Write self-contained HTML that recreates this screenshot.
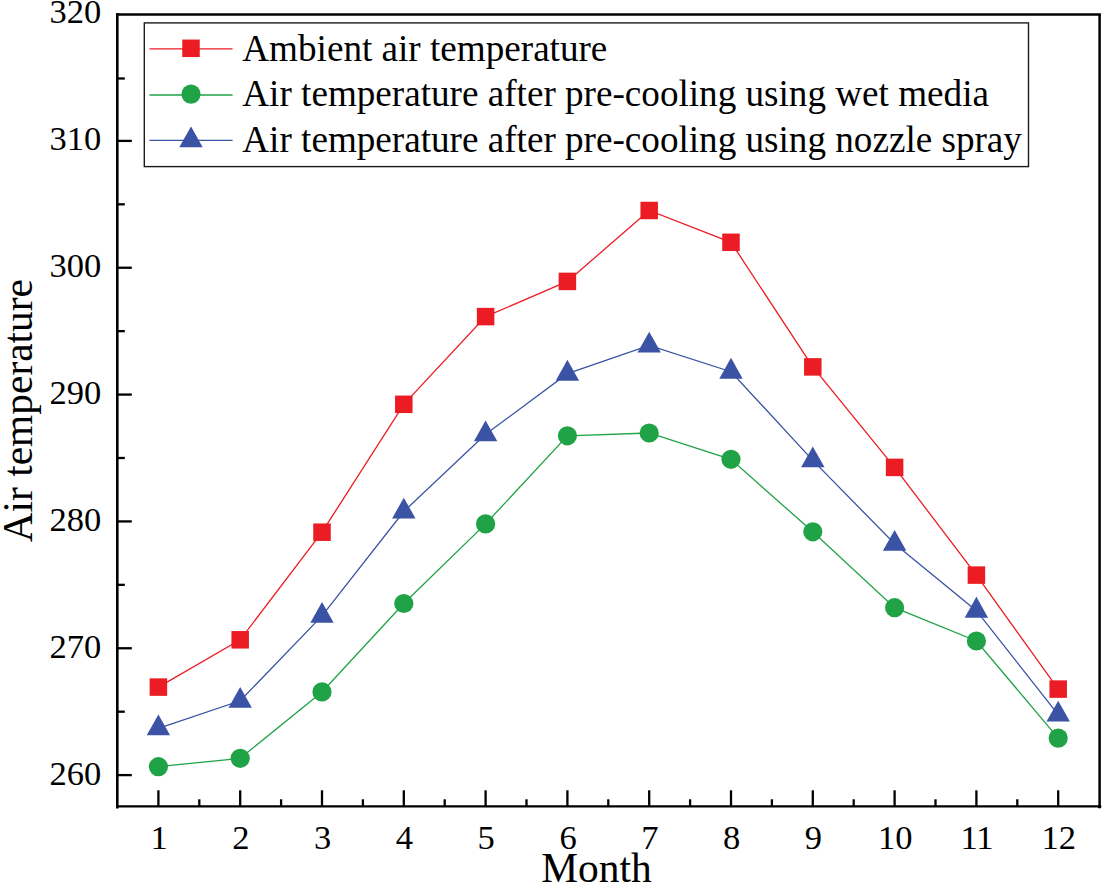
<!DOCTYPE html>
<html><head><meta charset="utf-8"><style>
html,body{margin:0;padding:0;background:#fff;}
svg{display:block;}
.lab{font-family:"Liberation Serif",serif;font-size:34.5px;fill:#000;}
.tit{font-family:"Liberation Serif",serif;font-size:41.4px;fill:#000;}
.leg{font-family:"Liberation Serif",serif;font-size:37.15px;fill:#000;}
</style></head><body>
<svg width="1105" height="886" viewBox="0 0 1105 886">
<polyline points="158.40,766.70 240.20,758.30 322.00,691.90 403.80,603.50 485.60,523.90 567.40,435.80 649.20,433.00 731.00,459.30 812.80,531.80 894.60,607.70 976.40,641.00 1058.20,738.10" fill="none" stroke="#1fa346" stroke-width="1.3"/>
<circle cx="158.40" cy="766.70" r="9.6" fill="#1fa346"/>
<circle cx="240.20" cy="758.30" r="9.6" fill="#1fa346"/>
<circle cx="322.00" cy="691.90" r="9.6" fill="#1fa346"/>
<circle cx="403.80" cy="603.50" r="9.6" fill="#1fa346"/>
<circle cx="485.60" cy="523.90" r="9.6" fill="#1fa346"/>
<circle cx="567.40" cy="435.80" r="9.6" fill="#1fa346"/>
<circle cx="649.20" cy="433.00" r="9.6" fill="#1fa346"/>
<circle cx="731.00" cy="459.30" r="9.6" fill="#1fa346"/>
<circle cx="812.80" cy="531.80" r="9.6" fill="#1fa346"/>
<circle cx="894.60" cy="607.70" r="9.6" fill="#1fa346"/>
<circle cx="976.40" cy="641.00" r="9.6" fill="#1fa346"/>
<circle cx="1058.20" cy="738.10" r="9.6" fill="#1fa346"/>
<polyline points="158.40,728.40 240.20,700.80 322.00,615.90 403.80,511.50 485.60,434.30 567.40,373.70 649.20,345.50 731.00,371.70 812.80,460.40 894.60,543.80 976.40,610.70 1058.20,714.60" fill="none" stroke="#3a53a4" stroke-width="1.3"/>
<polygon points="158.40,714.53 170.10,735.33 146.70,735.33" fill="#3a53a4"/>
<polygon points="240.20,686.93 251.90,707.73 228.50,707.73" fill="#3a53a4"/>
<polygon points="322.00,602.03 333.70,622.83 310.30,622.83" fill="#3a53a4"/>
<polygon points="403.80,497.63 415.50,518.43 392.10,518.43" fill="#3a53a4"/>
<polygon points="485.60,420.43 497.30,441.23 473.90,441.23" fill="#3a53a4"/>
<polygon points="567.40,359.83 579.10,380.63 555.70,380.63" fill="#3a53a4"/>
<polygon points="649.20,331.63 660.90,352.43 637.50,352.43" fill="#3a53a4"/>
<polygon points="731.00,357.83 742.70,378.63 719.30,378.63" fill="#3a53a4"/>
<polygon points="812.80,446.53 824.50,467.33 801.10,467.33" fill="#3a53a4"/>
<polygon points="894.60,529.93 906.30,550.73 882.90,550.73" fill="#3a53a4"/>
<polygon points="976.40,596.83 988.10,617.63 964.70,617.63" fill="#3a53a4"/>
<polygon points="1058.20,700.73 1069.90,721.53 1046.50,721.53" fill="#3a53a4"/>
<polyline points="158.40,687.10 240.20,639.80 322.00,532.20 403.80,404.30 485.60,316.60 567.40,281.40 649.20,210.50 731.00,242.30 812.80,366.90 894.60,467.40 976.40,575.10 1058.20,689.10" fill="none" stroke="#ec1c24" stroke-width="1.3"/>
<rect x="149.65" y="678.35" width="17.5" height="17.5" fill="#ec1c24"/>
<rect x="231.45" y="631.05" width="17.5" height="17.5" fill="#ec1c24"/>
<rect x="313.25" y="523.45" width="17.5" height="17.5" fill="#ec1c24"/>
<rect x="395.05" y="395.55" width="17.5" height="17.5" fill="#ec1c24"/>
<rect x="476.85" y="307.85" width="17.5" height="17.5" fill="#ec1c24"/>
<rect x="558.65" y="272.65" width="17.5" height="17.5" fill="#ec1c24"/>
<rect x="640.45" y="201.75" width="17.5" height="17.5" fill="#ec1c24"/>
<rect x="722.25" y="233.55" width="17.5" height="17.5" fill="#ec1c24"/>
<rect x="804.05" y="358.15" width="17.5" height="17.5" fill="#ec1c24"/>
<rect x="885.85" y="458.65" width="17.5" height="17.5" fill="#ec1c24"/>
<rect x="967.65" y="566.35" width="17.5" height="17.5" fill="#ec1c24"/>
<rect x="1049.45" y="680.35" width="17.5" height="17.5" fill="#ec1c24"/>
<path d="M116.0,14.4 H1100.8999999999999" stroke="#000" stroke-width="2.5" fill="none"/>
<path d="M1099.6,14.4 V806.3" stroke="#000" stroke-width="2.5" fill="none"/>
<path d="M117.3,13.15 V808.5999999999999" stroke="#000" stroke-width="2.6" fill="none"/>
<path d="M117.3,806.3 H1099.6" stroke="#000" stroke-width="2.3" stroke-linecap="round" fill="none"/>
<circle cx="1099.5" cy="806.5" r="1.9" fill="#000"/>
<line x1="117.3" y1="775.10" x2="131.8" y2="775.10" stroke="#000" stroke-width="2.3"/>
<line x1="117.3" y1="711.68" x2="124.8" y2="711.68" stroke="#000" stroke-width="2.3"/>
<line x1="117.3" y1="648.26" x2="131.8" y2="648.26" stroke="#000" stroke-width="2.3"/>
<line x1="117.3" y1="584.84" x2="124.8" y2="584.84" stroke="#000" stroke-width="2.3"/>
<line x1="117.3" y1="521.42" x2="131.8" y2="521.42" stroke="#000" stroke-width="2.3"/>
<line x1="117.3" y1="458.00" x2="124.8" y2="458.00" stroke="#000" stroke-width="2.3"/>
<line x1="117.3" y1="394.58" x2="131.8" y2="394.58" stroke="#000" stroke-width="2.3"/>
<line x1="117.3" y1="331.16" x2="124.8" y2="331.16" stroke="#000" stroke-width="2.3"/>
<line x1="117.3" y1="267.74" x2="131.8" y2="267.74" stroke="#000" stroke-width="2.3"/>
<line x1="117.3" y1="204.32" x2="124.8" y2="204.32" stroke="#000" stroke-width="2.3"/>
<line x1="117.3" y1="140.90" x2="131.8" y2="140.90" stroke="#000" stroke-width="2.3"/>
<line x1="117.3" y1="78.48" x2="124.8" y2="78.48" stroke="#000" stroke-width="2.3"/>
<line x1="158.40" y1="806.3" x2="158.40" y2="790.3" stroke="#000" stroke-width="2.3"/>
<line x1="199.30" y1="806.3" x2="199.30" y2="799.3" stroke="#000" stroke-width="2.3"/>
<line x1="240.20" y1="806.3" x2="240.20" y2="790.3" stroke="#000" stroke-width="2.3"/>
<line x1="281.10" y1="806.3" x2="281.10" y2="799.3" stroke="#000" stroke-width="2.3"/>
<line x1="322.00" y1="806.3" x2="322.00" y2="790.3" stroke="#000" stroke-width="2.3"/>
<line x1="362.90" y1="806.3" x2="362.90" y2="799.3" stroke="#000" stroke-width="2.3"/>
<line x1="403.80" y1="806.3" x2="403.80" y2="790.3" stroke="#000" stroke-width="2.3"/>
<line x1="444.70" y1="806.3" x2="444.70" y2="799.3" stroke="#000" stroke-width="2.3"/>
<line x1="485.60" y1="806.3" x2="485.60" y2="790.3" stroke="#000" stroke-width="2.3"/>
<line x1="526.50" y1="806.3" x2="526.50" y2="799.3" stroke="#000" stroke-width="2.3"/>
<line x1="567.40" y1="806.3" x2="567.40" y2="790.3" stroke="#000" stroke-width="2.3"/>
<line x1="608.30" y1="806.3" x2="608.30" y2="799.3" stroke="#000" stroke-width="2.3"/>
<line x1="649.20" y1="806.3" x2="649.20" y2="790.3" stroke="#000" stroke-width="2.3"/>
<line x1="690.10" y1="806.3" x2="690.10" y2="799.3" stroke="#000" stroke-width="2.3"/>
<line x1="731.00" y1="806.3" x2="731.00" y2="790.3" stroke="#000" stroke-width="2.3"/>
<line x1="771.90" y1="806.3" x2="771.90" y2="799.3" stroke="#000" stroke-width="2.3"/>
<line x1="812.80" y1="806.3" x2="812.80" y2="790.3" stroke="#000" stroke-width="2.3"/>
<line x1="853.70" y1="806.3" x2="853.70" y2="799.3" stroke="#000" stroke-width="2.3"/>
<line x1="894.60" y1="806.3" x2="894.60" y2="790.3" stroke="#000" stroke-width="2.3"/>
<line x1="935.50" y1="806.3" x2="935.50" y2="799.3" stroke="#000" stroke-width="2.3"/>
<line x1="976.40" y1="806.3" x2="976.40" y2="790.3" stroke="#000" stroke-width="2.3"/>
<line x1="1017.30" y1="806.3" x2="1017.30" y2="799.3" stroke="#000" stroke-width="2.3"/>
<line x1="1058.20" y1="806.3" x2="1058.20" y2="790.3" stroke="#000" stroke-width="2.3"/>
<text x="101.3" y="784.50" text-anchor="end" class="lab">260</text>
<text x="101.3" y="657.66" text-anchor="end" class="lab">270</text>
<text x="101.3" y="530.82" text-anchor="end" class="lab">280</text>
<text x="101.3" y="403.98" text-anchor="end" class="lab">290</text>
<text x="101.3" y="277.14" text-anchor="end" class="lab">300</text>
<text x="101.3" y="150.30" text-anchor="end" class="lab">310</text>
<text x="101.3" y="23.46" text-anchor="end" class="lab">320</text>
<text x="159.00" y="849.3" text-anchor="middle" class="lab">1</text>
<text x="240.80" y="849.3" text-anchor="middle" class="lab">2</text>
<text x="322.60" y="849.3" text-anchor="middle" class="lab">3</text>
<text x="404.40" y="849.3" text-anchor="middle" class="lab">4</text>
<text x="486.20" y="849.3" text-anchor="middle" class="lab">5</text>
<text x="568.00" y="849.3" text-anchor="middle" class="lab">6</text>
<text x="649.80" y="849.3" text-anchor="middle" class="lab">7</text>
<text x="731.60" y="849.3" text-anchor="middle" class="lab">8</text>
<text x="813.40" y="849.3" text-anchor="middle" class="lab">9</text>
<text x="895.20" y="849.3" text-anchor="middle" class="lab">10</text>
<text x="977.00" y="849.3" text-anchor="middle" class="lab">11</text>
<text x="1058.80" y="849.3" text-anchor="middle" class="lab">12</text>
<text x="596.5" y="882.3" text-anchor="middle" class="tit">Month</text>
<text transform="translate(32.3,410.7) rotate(-90)" x="0" y="0" text-anchor="middle" class="tit">Air temperature</text>
<rect x="144.3" y="22.9" width="884.2" height="143.7" fill="#fff" stroke="#1a1a1a" stroke-width="1.4"/>
<line x1="149.5" y1="48.8" x2="232.6" y2="48.8" stroke="#ec1c24" stroke-width="1.3"/>
<rect x="182.25" y="39.55" width="17.5" height="17.5" fill="#ec1c24"/>
<text x="242.3" y="61.0" class="leg">Ambient air temperature</text>
<line x1="149.5" y1="95.0" x2="232.6" y2="95.0" stroke="#1fa346" stroke-width="1.3"/>
<circle cx="191.00" cy="94.10" r="9.6" fill="#1fa346"/>
<text x="242.3" y="105.6" class="leg">Air temperature after pre-cooling using wet media</text>
<line x1="149.5" y1="140.3" x2="232.6" y2="140.3" stroke="#3a53a4" stroke-width="1.3"/>
<polygon points="191.00,126.43 202.70,147.23 179.30,147.23" fill="#3a53a4"/>
<text x="242.3" y="152.1" class="leg">Air temperature after pre-cooling using nozzle spray</text>
</svg>
</body></html>
